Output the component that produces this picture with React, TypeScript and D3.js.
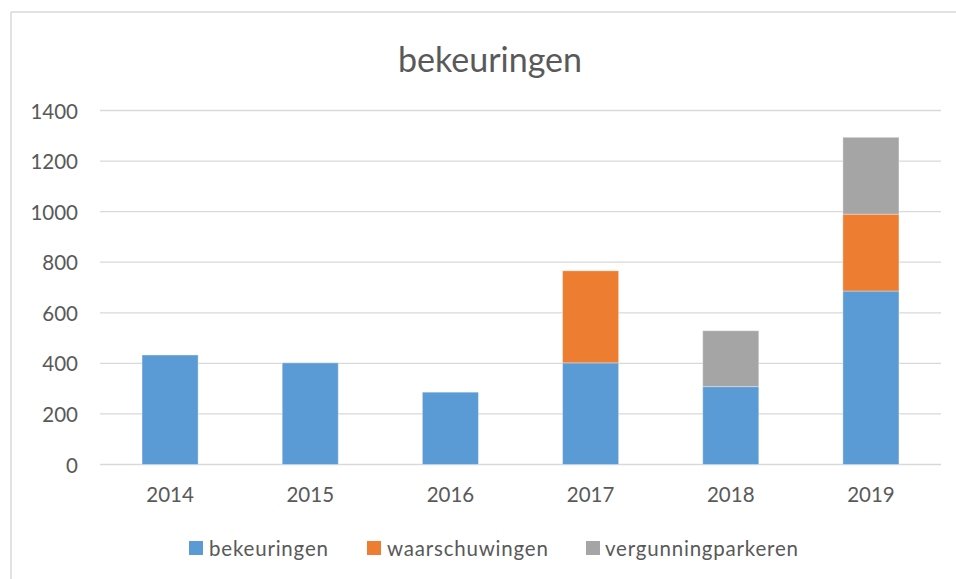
import React from "react";
import * as d3 from "d3";

const years = ["2014", "2015", "2016", "2017", "2018", "2019"];
const bekeuringen = [433, 402, 286, 402, 308, 686];
const waarschuwingen = [0, 0, 0, 364, 0, 304];
const vergunningparkeren = [0, 0, 0, 0, 221, 304];
const yTicks = [0, 200, 400, 600, 800, 1000, 1200, 1400];
const seriesNames = ["bekeuringen", "waarschuwingen", "vergunningparkeren"];
const colors = ["#5B9BD5", "#ED7D31", "#A5A5A5"];

const W = 956;
const H = 579;
const FONT = "Lato, 'Open Sans', sans-serif";

export default function App() {
  const left = 100, right = 941, top = 110.5, bottom = 464.5;
  const x = d3.scaleBand<string>().domain(years).range([left, right]).paddingInner(0.6).paddingOuter(0.3);
  const y = d3.scaleLinear().domain([0, 1400]).range([bottom, top]);

  const rows = years.map((yr, i) => ({
    year: yr,
    bekeuringen: bekeuringen[i],
    waarschuwingen: waarschuwingen[i],
    vergunningparkeren: vergunningparkeren[i],
  }));
  const stacked = d3.stack<any>().keys(seriesNames)(rows);

  const legendItems = [
    { name: seriesNames[0], sx: 189, tx: 209 },
    { name: seriesNames[1], sx: 367, tx: 387 },
    { name: seriesNames[2], sx: 586, tx: 605 },
  ];

  return (
    <svg width={W} height={H} style={{ position: "absolute", left: 0, top: 0 }}>
      <rect x={0} y={0} width={W} height={H} fill="#fff" />
      <line x1={11} x2={W} y1={12} y2={12} stroke="#D9D9D9" strokeWidth={1.5} />
      <line x1={11} x2={11} y1={12} y2={H} stroke="#D9D9D9" strokeWidth={1.5} />
      <text x={490} y={58} textAnchor="middle" dominantBaseline="central" fontFamily={FONT} fontSize={34} fill="#595959">
        bekeuringen
      </text>
      {yTicks.map((t) => (
        <g key={t}>
          <line x1={left} x2={right} y1={y(t)} y2={y(t)} stroke="#D9D9D9" strokeWidth={1.3} />
          <text x={78} y={y(t)} textAnchor="end" dominantBaseline="central" fontFamily={FONT} fontSize={20.5} fill="#595959">
            {t}
          </text>
        </g>
      ))}
      {stacked.map((s, si) => (
        <g key={s.key} fill={colors[si]}>
          {s.map((d, i) =>
            d[1] - d[0] > 0 ? (
              <rect
                key={i}
                x={x(years[i])!}
                y={y(d[1])}
                width={x.bandwidth()}
                height={y(d[0]) - y(d[1])}
                stroke="#ffffff"
                strokeOpacity={0.35}
                strokeWidth={1}
              />
            ) : null
          )}
        </g>
      ))}
      {years.map((yr) => (
        <text key={yr} x={x(yr)! + x.bandwidth() / 2} y={494} textAnchor="middle" dominantBaseline="central" fontFamily={FONT} fontSize={20.5} fill="#595959">
          {yr}
        </text>
      ))}
      {legendItems.map((l, i) => (
        <g key={l.name}>
          <rect x={l.sx} y={541} width={14} height={14} fill={colors[i]} />
          <text x={l.tx} y={548} dominantBaseline="central" fontFamily={FONT} fontSize={20.5} letterSpacing={0.8} fill="#595959">
            {l.name}
          </text>
        </g>
      ))}
    </svg>
  );
}
